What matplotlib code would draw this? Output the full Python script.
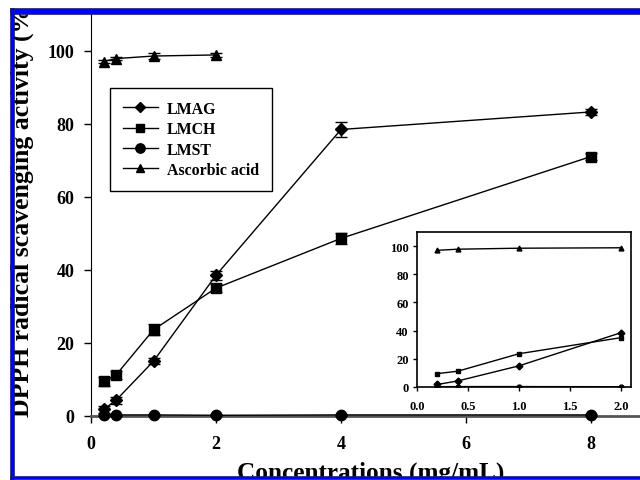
#! /usr/bin/env python3
# -*- coding: utf-8 -*-
"""
DPPH radical scavenging activity vs. concentration, with a zoomed inset.
"""

import matplotlib

matplotlib.use("Agg")
import matplotlib.pyplot as plt
from matplotlib.patches import Rectangle

plt.rcParams["font.family"] = "serif"
plt.rcParams["font.serif"] = ["Liberation Serif", "DejaVu Serif"]
plt.rcParams["font.weight"] = "bold"

# concentrations (mg/mL)
conc = [0.2, 0.4, 1.0, 2.0, 4.0, 8.0]
conc_aa = [0.2, 0.4, 1.0, 2.0]

# scavenging activity (%)
lmag = [1.8, 4.3, 15.0, 38.5, 78.4, 83.2]
lmag_err = [1.0, 1.0, 0.8, 1.2, 2.0, 0.8]
lmch = [9.5, 11.2, 23.6, 35.0, 48.6, 71.0]
lmch_err = [1.2, 1.0, 1.5, 1.2, 1.4, 1.0]
lmst = [0.2, 0.3, 0.3, 0.2, 0.3, 0.3]
lmst_err = [0.3, 0.3, 0.3, 0.3, 0.3, 0.3]
ascorbic = [97.0, 97.8, 98.5, 98.8]
ascorbic_err = [0.5, 0.5, 0.8, 0.5]

labels = ["LMAG", "LMCH", "LMST", "Ascorbic acid"]

W, H = 640, 481
fig = plt.figure(figsize=(6.4, 4.81), dpi=100)


def fx(px):
    return px / W


def fy(py):
    return 1 - py / H


# main axes
ax = fig.add_axes([fx(91), fy(417), fx(640 - 91), (417 - 15) / H])
series = [
    (conc, lmag, lmag_err, "D", 6),
    (conc, lmch, lmch_err, "s", 7),
    (conc, lmst, lmst_err, "o", 7.5),
    (conc_aa, ascorbic, ascorbic_err, "^", 7),
]
handles = []
for (x, y, e, m, ms), lab in zip(series, labels):
    h = ax.errorbar(x, y, yerr=e, color="black", marker=m, markersize=ms,
                    linewidth=1, capsize=4, elinewidth=1, label=lab, zorder=3,
                    clip_on=False)
    handles.append(h)

ax.set_xlim(0, (640 - 91) / 62.5)
ax.set_ylim(0, 110)
ax.set_xticks([0, 2, 4, 6, 8])
ax.set_yticks([0, 20, 40, 60, 80, 100])
ax.tick_params(direction="out", length=5, width=1, labelsize=13)
ax.tick_params(axis="y", pad=7)
ax.tick_params(axis="x", pad=9)
ax.spines["top"].set_visible(False)
ax.spines["right"].set_visible(False)
ax.spines["bottom"].set_color("#555555")
ax.spines["bottom"].set_linewidth(2)

leg = ax.legend(handles=[h[0] for h in handles], labels=labels,
                loc="upper left", bbox_to_anchor=(fx(110), fy(89)),
                bbox_transform=fig.transFigure, borderaxespad=0,
                fancybox=False, edgecolor="black", framealpha=1,
                prop={"size": 11.4, "weight": "bold"}, handlelength=2.2,
                handletextpad=0.6, labelspacing=0.28, borderpad=0.8,
                markerscale=0.9)
leg.get_frame().set_linewidth(1)

# inset
axi = fig.add_axes([fx(417), fy(388), fx(631 - 417), (388 - 233) / H])
for x, y, e, m, ms in series:
    n = len([v for v in x if v <= 2.0])
    axi.plot(x[:n], y[:n], color="black", marker=m, markersize=3.5,
             linewidth=1)
axi.set_xlim(0, 2.1)
axi.set_ylim(0, 110)
axi.set_xticks([0.0, 0.5, 1.0, 1.5, 2.0])
axi.set_xticklabels(["0.0", "0.5", "1.0", "1.5", "2.0"])
axi.set_yticks([0, 20, 40, 60, 80, 100])
axi.tick_params(direction="out", length=3, width=1, labelsize=9, pad=3)
axi.tick_params(axis="x", pad=6)
for s in axi.spines.values():
    s.set_linewidth(1.2)

# axis titles (cropped by the frame, as in the source figure)
fig.text(fx(22), fy(417), "DPPH radical scavenging activity (%)",
         rotation=90, ha="center", va="bottom", fontsize=18.5,
         fontweight="bold")
fig.text(fx(371), fy(480), "Concentrations (mg/mL)", ha="center",
         va="baseline", fontsize=18.2, fontweight="bold")

# white margins outside the blue frame, then the frame itself
for x0, y0, w, h in [(0, 0, 10, H), (0, 0, W, 9), (0, 479, W, 2)]:
    fig.add_artist(Rectangle((fx(x0), fy(y0 + h)), fx(w), h / H,
                             transform=fig.transFigure, facecolor="white",
                             edgecolor="none", zorder=10))
for x0, y0, w, h in [(10, 9, W - 10, 6), (10, 9, 4, H - 9), (10, 477, W - 10, 3)]:
    fig.add_artist(Rectangle((fx(x0), fy(y0 + h)), fx(w), h / H,
                             transform=fig.transFigure, facecolor="#0000ff",
                             edgecolor="#202060", linewidth=0.5, zorder=11))

fig.savefig("out.png", dpi=100)
